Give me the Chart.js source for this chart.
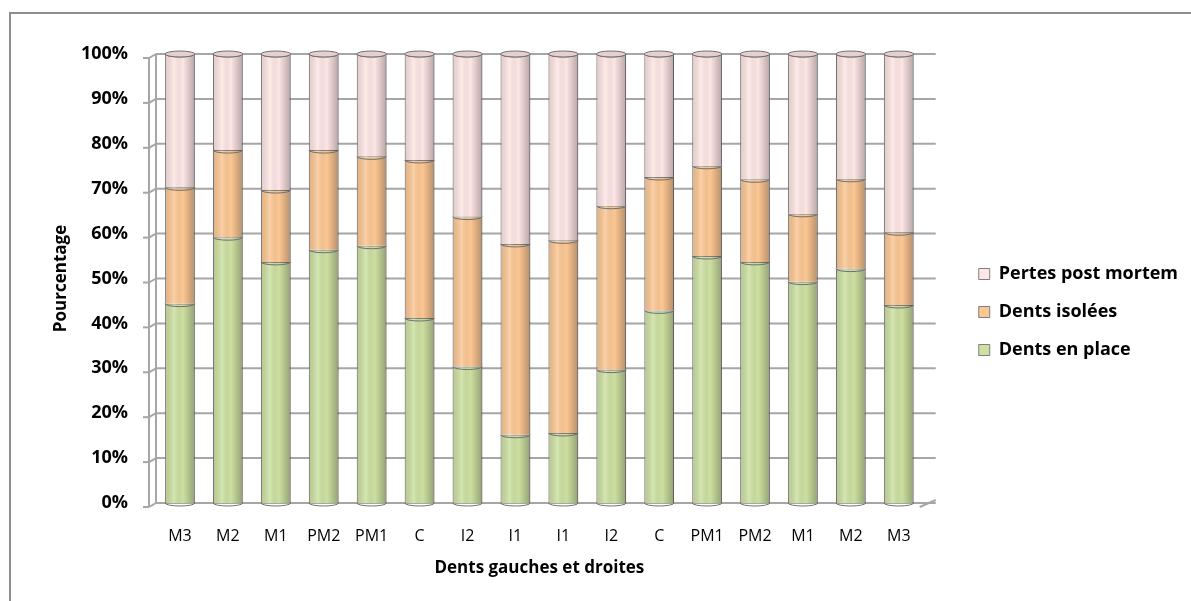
<!DOCTYPE html>
<html>
<head>
<meta charset="utf-8">
<script src="https://cdn.jsdelivr.net/npm/chart.js@4/dist/chart.umd.min.js"></script>
<style>
  html, body { margin: 0; padding: 0; background: #fff; }
  #wrap { position: relative; width: 1191px; height: 601px; overflow: hidden; }
  #frame { position: absolute; left: 9px; top: 12px; width: 1400px; height: 800px;
           border-left: 2px solid #8e8e8e; border-top: 2px solid #8e8e8e; }
  canvas { position: absolute; left: 0; top: 0; }
</style>
</head>
<body>
<div id="wrap">
  <div id="frame"></div>
  <canvas id="chart" width="1191" height="601"></canvas>
</div>
<script>
// Dents gauches et droites
const categories = ['M3', 'M2', 'M1', 'PM2', 'PM1', 'C', 'I2', 'I1', 'I1', 'I2', 'C', 'PM1', 'PM2', 'M1', 'M2', 'M3'];

// percentages
const dentsEnPlace = [44.4, 59.2, 53.7, 56.4, 57.3, 41.2, 30.4, 15.2, 15.6, 29.7, 42.9, 55.0, 53.7, 49.3, 52.2, 44.1];
const dentsIsolees = [25.9, 19.4, 16.0, 22.2, 19.9, 35.2, 33.4, 42.5, 42.9, 36.5, 29.7, 20.1, 18.4, 15.1, 20.0, 16.2];
const pertesPostMortem = [29.7, 21.4, 30.3, 21.4, 22.8, 23.6, 36.2, 42.3, 41.5, 33.8, 27.4, 24.9, 27.9, 35.6, 27.8, 39.7];

const yTicks = [0, 10, 20, 30, 40, 50, 60, 70, 80, 90, 100];

const FONT = '"Open Sans", "Liberation Sans", sans-serif';
const WALL = '#a6a6a6';

// back wall grid lines + little side wall / floor edges for the 3D look
const wallPlugin = {
  id: 'wall',
  beforeDatasetsDraw(chart) {
    const { ctx, chartArea } = chart;
    const y = chart.scales.y;
    const l = chartArea.left, r = chartArea.right;
    ctx.save();
    ctx.strokeStyle = WALL;
    ctx.lineWidth = 2;
    yTicks.forEach(t => {
      const py = y.getPixelForValue(t);
      ctx.beginPath();
      ctx.moveTo(l, py);
      ctx.lineTo(r + 13, py);
      ctx.stroke();
      // side wall edge + tick on the front
      ctx.beginPath();
      ctx.moveTo(l - 7, py + 4);
      ctx.lineTo(l, py);
      ctx.stroke();
      ctx.beginPath();
      ctx.moveTo(l - 13, py + 4);
      ctx.lineTo(l - 7, py + 4);
      ctx.stroke();
    });
    ctx.beginPath();
    ctx.moveTo(l, y.getPixelForValue(100));
    ctx.lineTo(l, y.getPixelForValue(0));
    ctx.moveTo(l - 7, y.getPixelForValue(100) + 4);
    ctx.lineTo(l - 7, y.getPixelForValue(0) + 4);
    ctx.stroke();
    // floor, right corner
    const py0 = y.getPixelForValue(0);
    ctx.beginPath();
    ctx.moveTo(r - 3, py0 + 4);
    ctx.lineTo(r + 13, py0 - 3);
    ctx.stroke();
    ctx.restore();
  }
};

// cylinder shading and elliptic joints on each stacked piece
const cylinderPlugin = {
  id: 'cylinder',
  afterDatasetsDraw(chart) {
    const ctx = chart.ctx;
    ctx.save();
    chart.data.datasets.forEach((ds, di) => {
      chart.getDatasetMeta(di).data.forEach(bar => {
        const left = bar.x - bar.width / 2;
        const top = Math.min(bar.y, bar.base);
        const h = Math.abs(bar.base - bar.y);
        const g = ctx.createLinearGradient(left, 0, left + bar.width, 0);
        g.addColorStop(0, 'rgba(0,0,0,0.10)');
        g.addColorStop(0.3, 'rgba(255,255,255,0.18)');
        g.addColorStop(0.6, 'rgba(0,0,0,0.0)');
        g.addColorStop(1, 'rgba(0,0,0,0.28)');
        ctx.fillStyle = g;
        ctx.fillRect(left, top, bar.width, h);
        ctx.strokeStyle = '#6f6f6f';
        ctx.lineWidth = 1;
        ctx.beginPath();
        ctx.ellipse(bar.x, top, bar.width / 2, 3, 0, 0, Math.PI);
        ctx.stroke();
        if (di === 0) {
          ctx.beginPath();
          ctx.ellipse(bar.x, bar.base, bar.width / 2, 3, 0, 0, Math.PI);
          ctx.stroke();
        }
        if (di === chart.data.datasets.length - 1) {
          ctx.fillStyle = '#e6cfcf';
          ctx.beginPath();
          ctx.ellipse(bar.x, top, bar.width / 2, 3, 0, 0, Math.PI * 2);
          ctx.fill();
          ctx.stroke();
        }
      });
    });
    ctx.restore();
  }
};

// nudge the legend block up a little
const legendNudge = {
  id: 'legendNudge',
  afterLayout(chart) {
    chart.legend.top -= 6;
    chart.legend.bottom -= 6;
  }
};

new Chart(document.getElementById('chart'), {
  type: 'bar',
  data: {
    labels: categories,
    datasets: [
      { label: 'Dents en place', data: dentsEnPlace, backgroundColor: '#cde0a1', borderColor: '#7f7f7f', borderWidth: 1 },
      { label: 'Dents isolées', data: dentsIsolees, backgroundColor: '#fcc793', borderColor: '#7f7f7f', borderWidth: 1 },
      { label: 'Pertes post mortem', data: pertesPostMortem, backgroundColor: '#fde6e5', borderColor: '#7f7f7f', borderWidth: 1 }
    ]
  },
  options: {
    responsive: false,
    animation: false,
    barPercentage: 0.62,
    categoryPercentage: 1,
    layout: { padding: { top: 54, left: 47, right: 3, bottom: 19 } },
    plugins: {
      tooltip: { enabled: false },
      legend: {
        position: 'right',
        reverse: true,
        maxWidth: 300,
        labels: {
          boxWidth: 11, boxHeight: 11, padding: 20, color: '#000',
          font: { family: FONT, size: 18, weight: 'bold' }
        }
      }
    },
    scales: {
      x: {
        stacked: true,
        grid: { display: false },
        border: { color: WALL, width: 2 },
        ticks: { color: '#000', padding: 16, font: { family: FONT, size: 16 } },
        title: { display: true, text: 'Dents gauches et droites', color: '#000', padding: { top: 0, bottom: 4 },
                 font: { family: FONT, size: 17, weight: 'bold' } },
        afterFit: axis => { axis.height = 79; }
      },
      y: {
        stacked: true,
        min: 0, max: 100,
        afterBuildTicks: axis => { axis.ticks = yTicks.map(v => ({ value: v })); },
        grid: { display: false },
        border: { display: false },
        ticks: { color: '#000', padding: 20, callback: v => v + '%',
                 font: { family: FONT, size: 18, weight: 'bold' } },
        title: { display: true, text: 'Pourcentage', color: '#000', padding: { top: 4, bottom: 0 },
                 font: { family: FONT, size: 17, weight: 'bold' } },
        afterFit: axis => { axis.width = 109; }
      },
      // empty strip on the right for the depth of the back wall
      depth: {
        position: 'right',
        min: 0, max: 100,
        grid: { display: false },
        border: { display: false },
        ticks: { display: false },
        afterFit: axis => { axis.width = 36; }
      }
    }
  },
  plugins: [wallPlugin, cylinderPlugin, legendNudge]
});
</script>
</body>
</html>
